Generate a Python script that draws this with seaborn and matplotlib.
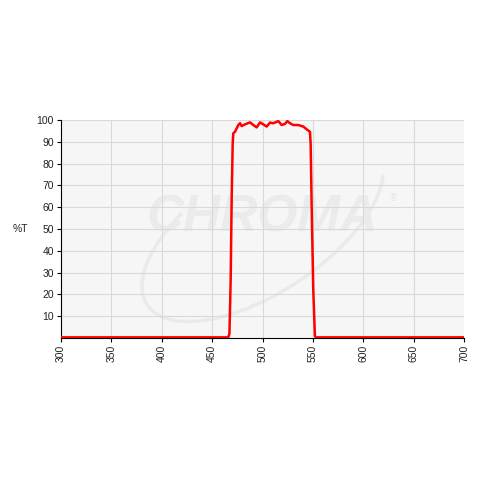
import numpy as np
import pandas as pd
import matplotlib
matplotlib.use("Agg")
import matplotlib.pyplot as plt
import seaborn as sns
from matplotlib.patches import Arc

# wavelength (nm) and transmission (%T)
wavelength = [300, 400, 466.0, 467.2, 468.4, 469.4, 470.4, 471.0, 472.7, 476.0, 477.7,
              479.3, 482.6, 487.6, 490.9, 494.2, 497.5, 500.8, 504.2, 507.4, 510.7,
              515.7, 519.0, 522.3, 524.6, 527.3, 530.6, 535.5, 540.5, 543.9, 547.1,
              547.8, 548.8, 550.4, 552.0, 553.0, 600, 700]
transmission = [0.3, 0.3, 0.3, 2.0, 26.6, 64.0, 89.0, 93.9, 94.6, 97.7, 98.5,
                97.2, 98.0, 98.9, 97.7, 96.6, 98.9, 98.0, 97.0, 98.8, 98.5,
                99.5, 97.7, 98.2, 99.5, 98.5, 97.7, 97.7, 97.0, 95.7, 94.6,
                89.0, 60.0, 22.0, 1.0, 0.3, 0.3, 0.3]

x_ticks = [300, 350, 400, 450, 500, 550, 600, 650, 700]
y_ticks = [10, 20, 30, 40, 50, 60, 70, 80, 90, 100]

df = pd.DataFrame({"wavelength": wavelength, "T": transmission})

sns.set_style("white")
plt.rcParams["font.family"] = ["Liberation Sans", "DejaVu Sans"]

fig = plt.figure(figsize=(4.8, 4.8), dpi=100)
ax = fig.add_axes([61 / 480, 142 / 480, 403 / 480, 218 / 480])
ax.set_facecolor("#f6f6f6")

# faint watermark
ax.text(0.5, 0.55, "CHROMA", transform=ax.transAxes, ha="center", va="center",
        fontsize=37, fontstyle="italic", fontweight="bold", color="#ebebeb", zorder=0)
ax.text(0.815, 0.64, "®", transform=ax.transAxes, ha="left", va="center",
        fontsize=7, color="#e6e6e6", zorder=0)
ax.add_patch(Arc((0.5, 0.5), 0.42, 0.95, angle=-30, theta1=190, theta2=70,
                 transform=ax.transAxes, color="#eaeaea", lw=2.5, zorder=0))

sns.lineplot(data=df, x="wavelength", y="T", color="#ff0000", linewidth=1.8, ax=ax, zorder=3)

ax.set_xlim(300, 700)
ax.set_ylim(0, 100)
ax.set_xticks(x_ticks)
ax.set_yticks(y_ticks)
ax.grid(True, color="#d9d9d9", linewidth=0.8)
ax.set_axisbelow(True)

for side in ["top", "right"]:
    ax.spines[side].set_visible(False)
for side in ["left", "bottom"]:
    ax.spines[side].set_color("black")
    ax.spines[side].set_linewidth(0.8)

ax.tick_params(axis="both", which="both", direction="out", length=3, width=0.8,
               color="black", labelsize=7.5, labelcolor="#222222", pad=2,
               left=True, bottom=True)
ax.tick_params(axis="x", labelrotation=90)

ax.set_xlabel("")
ax.set_ylabel("%T", rotation=0, fontsize=7.5, color="#222222", labelpad=12, va="center")

fig.savefig("out.png", dpi=100)
